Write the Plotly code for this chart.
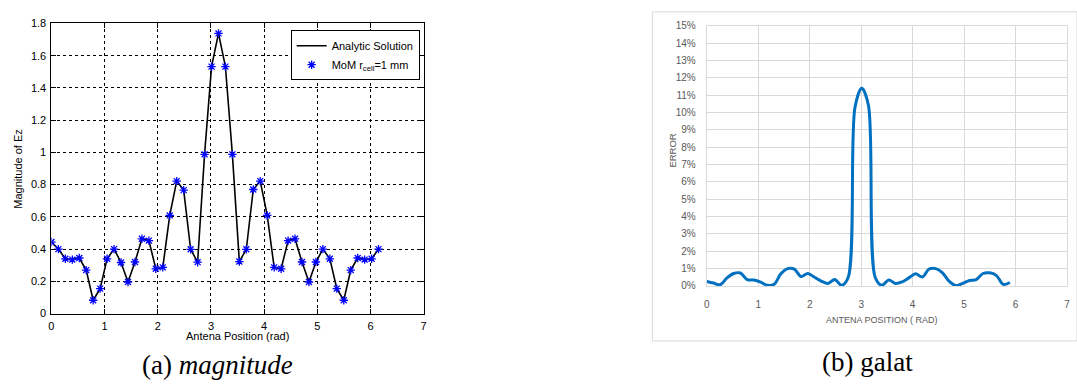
import plotly.graph_objects as go

# Antenna positions (rad) shared by both panels
antenna_pos = [0.000, 0.131, 0.262, 0.393, 0.524, 0.654, 0.785, 0.916, 1.047, 1.178,
               1.309, 1.440, 1.571, 1.702, 1.833, 1.963, 2.094, 2.225, 2.356, 2.487,
               2.618, 2.749, 2.880, 3.011, 3.142, 3.272, 3.403, 3.534, 3.665, 3.796,
               3.927, 4.058, 4.189, 4.320, 4.451, 4.581, 4.712, 4.843, 4.974, 5.105,
               5.236, 5.367, 5.498, 5.629, 5.760, 5.890, 6.021, 6.152]

# Magnitude of Ez (analytic solution and MoM share the same samples)
magnitude_ez = [0.444, 0.40, 0.34, 0.335, 0.345, 0.27, 0.083, 0.155, 0.34, 0.40,
                0.317, 0.196, 0.32, 0.464, 0.453, 0.278, 0.287, 0.609, 0.822, 0.766,
                0.399, 0.319, 0.988, 1.532, 1.738, 1.532, 0.988, 0.323, 0.399, 0.77,
                0.822, 0.609, 0.287, 0.278, 0.453, 0.464, 0.32, 0.196, 0.32, 0.40,
                0.34, 0.155, 0.083, 0.27, 0.345, 0.335, 0.34, 0.40]

# Relative error (%) between MoM and analytic solution
error_pos = antenna_pos[:46]
error_pct = [0.26, 0.17, 0.07, 0.47, 0.72, 0.75, 0.37, 0.34, 0.22, 0.04,
             0.10, 0.70, 1.00, 0.97, 0.54, 0.72, 0.50, 0.28, 0.15, 0.38,
             0.04, 0.50, 10.3, 11.4, 10.4, 0.50, 0.04, 0.35, 0.15, 0.24,
             0.47, 0.70, 0.52, 0.98, 1.00, 0.75, 0.26, 0.02, 0.15, 0.32,
             0.37, 0.72, 0.76, 0.60, 0.09, 0.20]

mag_xticks = [0, 1, 2, 3, 4, 5, 6, 7]
mag_yticks = [0, 0.2, 0.4, 0.6, 0.8, 1, 1.2, 1.4, 1.6, 1.8]
mag_ylabels = ["0", "0.2", "0.4", "0.6", "0.8", "1", "1.2", "1.4", "1.6", "1.8"]
err_xticks = [0, 1, 2, 3, 4, 5, 6, 7]
err_yticks = list(range(0, 16))
err_ylabels = [f"{v}%" for v in err_yticks]

W, H = 1077, 385


def px(x):
    return x / W


def py(y):
    return 1 - y / H


fig = go.Figure()

fig.add_trace(go.Scatter(
    x=antenna_pos, y=magnitude_ez, mode="lines", name="Analytic Solution",
    line=dict(color="black", width=1.6), xaxis="x", yaxis="y"))
fig.add_trace(go.Scatter(
    x=antenna_pos, y=magnitude_ez, mode="markers", name="MoM r<sub>cell</sub>=1 mm",
    marker=dict(symbol="asterisk-open", size=7, color="#0000ff",
                line=dict(color="#0000ff", width=1.3)),
    xaxis="x", yaxis="y"))
fig.add_trace(go.Scatter(
    x=error_pos, y=error_pct, mode="lines", showlegend=False,
    line=dict(color="#0070c0", width=3, shape="spline", smoothing=0.9),
    xaxis="x2", yaxis="y2"))

matlab_font = dict(family="Liberation Sans, Arial, sans-serif", size=11, color="black")
excel_font = dict(family="Liberation Sans Narrow, Liberation Sans, Arial, sans-serif",
                  size=10, color="#595959")
caption_font = dict(family="Liberation Serif, Times New Roman, serif", size=27, color="black")

fig.update_layout(
    width=W, height=H, margin=dict(l=0, r=0, t=0, b=0),
    paper_bgcolor="white", plot_bgcolor="white",
    showlegend=True,
    legend=dict(x=px(419), y=py(25), xanchor="right", yanchor="top",
                bgcolor="white", bordercolor="black", borderwidth=1,
                font=matlab_font, tracegroupgap=0, itemwidth=30),
    xaxis=dict(domain=[px(48.7), px(423)], range=[0, 7], tickvals=mag_xticks,
               showline=True, mirror="ticks", linecolor="black", linewidth=1,
               showgrid=True, gridcolor="black", griddash="3px,3px", gridwidth=1,
               zeroline=False, ticks="inside", ticklen=5, tickcolor="black",
               tickfont=matlab_font, ticklabelstandoff=2, anchor="y"),
    yaxis=dict(domain=[py(317.5), py(18)], range=[0, 1.8], tickvals=mag_yticks,
               ticktext=mag_ylabels,
               showline=True, mirror="ticks", linecolor="black", linewidth=1,
               showgrid=True, gridcolor="black", griddash="3px,3px", gridwidth=1,
               zeroline=False, ticks="inside", ticklen=5, tickcolor="black",
               tickfont=matlab_font, ticklabelstandoff=2, anchor="x"),
    xaxis2=dict(domain=[px(707.7), px(1070)], range=[0, 7], tickvals=err_xticks,
                showline=True, mirror=True, linecolor="#d9d9d9", linewidth=1,
                showgrid=True, gridcolor="#d9d9d9", gridwidth=1,
                zeroline=False, ticks="", tickfont=excel_font,
                ticklabelstandoff=9, anchor="y2"),
    yaxis2=dict(domain=[py(289), py(20.3)], range=[0, 15], tickvals=err_yticks,
                ticktext=err_ylabels,
                showline=True, mirror=True, linecolor="#d9d9d9", linewidth=1,
                showgrid=True, gridcolor="#d9d9d9", gridwidth=1,
                zeroline=False, ticks="", tickfont=excel_font,
                ticklabelstandoff=8, anchor="x2"),
    shapes=[dict(type="rect", xref="paper", yref="paper",
                 x0=px(653), x1=px(1080), y0=py(345.7), y1=py(6),
                 line=dict(color="#d9d9d9", width=1), layer="below")],
    annotations=[
        dict(text="Antena Position (rad)", x=px(236), y=py(341), xref="paper", yref="paper",
             showarrow=False, font=matlab_font, xanchor="center", yanchor="middle"),
        dict(text="Magnitude of Ez", x=px(15), y=py(168), xref="paper", yref="paper",
             showarrow=False, font=matlab_font, textangle=-90,
             xanchor="center", yanchor="middle"),
        dict(text="ANTENA POSITION ( RAD)", x=px(884), y=py(324), xref="paper", yref="paper",
             showarrow=False, font=dict(excel_font, size=9),
             xanchor="center", yanchor="middle"),
        dict(text="ERROR", x=px(673), y=py(149), xref="paper", yref="paper",
             showarrow=False, font=dict(excel_font, size=9.5), textangle=-90,
             xanchor="center", yanchor="middle"),
        dict(text="(a) <i>magnitude</i>", x=px(215.5), y=py(371), xref="paper", yref="paper",
             showarrow=False, font=caption_font, xanchor="center", yanchor="middle"),
        dict(text="(b) galat", x=px(869), y=py(367), xref="paper", yref="paper",
             showarrow=False, font=caption_font, xanchor="center", yanchor="middle"),
    ],
)

fig.write_html("out.html")
